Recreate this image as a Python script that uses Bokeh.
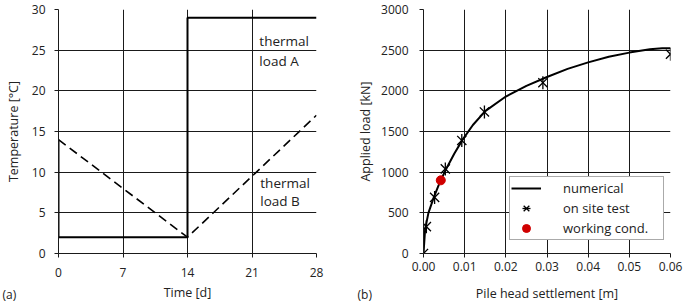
import numpy as np
from bokeh.plotting import figure
from bokeh.layouts import row
from bokeh.models import FixedTicker, Label, Legend, LegendItem, NumeralTickFormatter
from bokeh.embed import file_html
from bokeh.resources import INLINE

FONT = "Open Sans"

# ---- data: panel (a) ----
time_ticks = [0, 7, 14, 21, 28]
temp_ticks = [0, 5, 10, 15, 20, 25, 30]
load_a_t = [0, 0, 14, 14, 28]
load_a_T = [14, 2, 2, 29, 29]
load_b_t = [0, 14, 28]
load_b_T = [14, 2, 17]

# ---- data: panel (b) ----
settle_ticks = [0.00, 0.01, 0.02, 0.03, 0.04, 0.05, 0.06]
force_ticks = [0, 500, 1000, 1500, 2000, 2500, 3000]
num_s = [0.0, 0.0004, 0.0012, 0.0025, 0.0040, 0.0055, 0.0075, 0.0095, 0.012, 0.015, 0.020, 0.025, 0.030, 0.035, 0.040, 0.045, 0.050, 0.055, 0.058, 0.060]
num_F = [0, 300, 500, 690, 880, 1040, 1230, 1400, 1580, 1750, 1930, 2060, 2170, 2270, 2350, 2420, 2470, 2510, 2525, 2525]
test_s = [0.0, 0.0007, 0.0027, 0.0053, 0.0093, 0.0148, 0.029, 0.060]
test_F = [0, 330, 690, 1040, 1390, 1740, 2100, 2450]
work_s = [0.0042]
work_F = [900]


def style(p, xticks, yticks):
    p.xaxis.ticker = FixedTicker(ticks=xticks)
    p.yaxis.ticker = FixedTicker(ticks=yticks)
    p.xgrid.ticker = FixedTicker(ticks=xticks)
    p.ygrid.ticker = FixedTicker(ticks=yticks)
    for g in (p.xgrid, p.ygrid):
        g.grid_line_color = "#1a1a1a"
        g.grid_line_width = 1
    for ax in (p.xaxis, p.yaxis):
        ax.axis_line_color = "#1a1a1a"
        ax.major_tick_line_color = "#1a1a1a"
        ax.minor_tick_line_color = None
        ax.major_tick_in = 0
        ax.major_tick_out = 4
        ax.major_label_text_font = FONT
        ax.major_label_text_font_size = "12px"
        ax.major_label_text_color = "#222222"
        ax.axis_label_text_font = FONT
        ax.axis_label_text_font_size = "12.5px"
        ax.axis_label_text_font_style = "normal"
        ax.axis_label_text_color = "#222222"
    p.outline_line_color = None
    p.background_fill_color = "white"
    p.border_fill_color = "white"


# ---- panel (a) ----
pa = figure(width=345, height=307, x_range=(0, 28), y_range=(0, 30),
            output_backend="svg", toolbar_location=None,
            min_border_left=58, min_border_right=29, min_border_top=6, min_border_bottom=53)
style(pa, time_ticks, temp_ticks)
pa.xaxis.axis_label = "Time [d]"
pa.yaxis.axis_label = "Temperature [°C]"
pa.xaxis.major_label_standoff = 10
pa.xaxis.axis_label_standoff = 4
pa.yaxis.major_label_standoff = 9
pa.yaxis.axis_label_standoff = 7

pa.line(load_a_t, load_a_T, line_color="black", line_width=2)
pa.line(load_b_t, load_b_T, line_color="black", line_width=1.6, line_dash="9 5")

for txt, x, y in [("thermal", 21.8, 26.1), ("load A", 21.8, 23.7),
                  ("thermal", 21.9, 8.7), ("load B", 21.9, 6.5)]:
    pa.add_layout(Label(x=x, y=y, text=txt, text_font=FONT, text_font_size="13.5px",
                        text_baseline="middle", text_align="left", text_color="#222222"))

# panel tag, kept in the (roomy) right side panel so it is not clipped to the frame
pa.add_layout(Label(x=-314, y=-41, x_units="screen", y_units="screen", text="(a)",
                    text_font=FONT, text_font_size="12px", text_baseline="middle",
                    text_color="#222222"), "right")

# ---- panel (b) ----
pb = figure(width=340, height=307, x_range=(0, 0.06), y_range=(0, 3000),
            output_backend="svg", toolbar_location=None,
            min_border_left=78, min_border_right=15, min_border_top=9, min_border_bottom=54)
style(pb, settle_ticks, force_ticks)
pb.xaxis.formatter = NumeralTickFormatter(format="0.00")
pb.xaxis.axis_label = "Pile head settlement [m]"
pb.yaxis.axis_label = "Applied load [kN]"
pb.xaxis.major_label_standoff = 4
pb.xaxis.axis_label_standoff = 11
pb.yaxis.major_label_standoff = 11
pb.yaxis.axis_label_standoff = 4

r_num = pb.line(num_s, num_F, line_color="black", line_width=2)
r_x = pb.scatter(test_s, test_F, marker="x", size=13, line_color="black", line_width=1.3)
r_d = pb.scatter(test_s, test_F, marker="dash", size=13, angle=np.pi / 2,
                 line_color="black", line_width=1.3)
r_w = pb.scatter(work_s, work_F, marker="circle", size=9, fill_color="#d00000",
                 line_color="#d00000")

legend = Legend(items=[
    LegendItem(label="numerical", renderers=[r_num]),
    LegendItem(label="on site test", renderers=[r_x, r_d]),
    LegendItem(label="working cond.", renderers=[r_w]),
], location=(86, 13))
legend.label_text_font = FONT
legend.label_text_font_size = "13px"
legend.label_text_color = "#222222"
legend.border_line_color = "#555555"
legend.border_line_width = 1
legend.background_fill_color = "white"
legend.background_fill_alpha = 1
legend.padding = 1
legend.margin = 0
legend.spacing = 0
legend.label_height = 20
legend.glyph_height = 20
legend.glyph_width = 30
legend.label_standoff = 22
legend.label_width = 99
pb.add_layout(legend, "center")

pb.add_layout(Label(x=-313, y=-41, x_units="screen", y_units="screen", text="(b)",
                    text_font=FONT, text_font_size="12px", text_baseline="middle",
                    text_color="#222222"), "right")

layout = row(pa, pb)
open("out.html", "w").write(file_html(layout, INLINE))
